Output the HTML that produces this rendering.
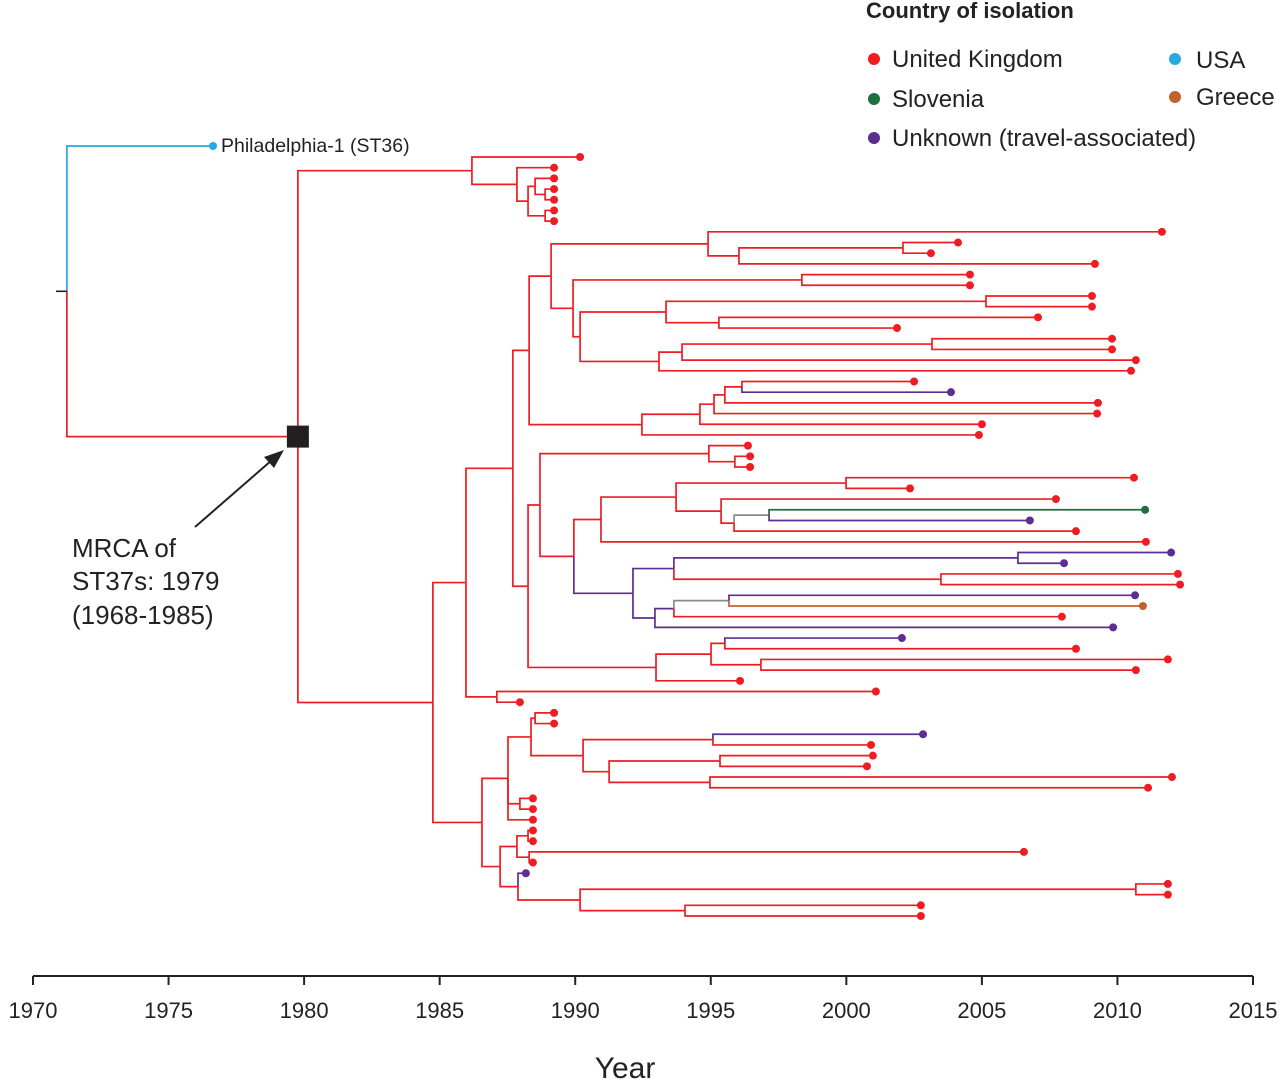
<!DOCTYPE html>
<html><head><meta charset="utf-8"><style>
body{margin:0;background:#fff;}
svg{display:block;font-family:"Liberation Sans",Arial,sans-serif;}
</style></head><body>
<svg id="chart" width="1280" height="1081" viewBox="0 0 1280 1081" xmlns="http://www.w3.org/2000/svg">
<g id="tree"></g>
<g id="axis"></g>
<text x="625" y="1078" font-size="30" text-anchor="middle" fill="#222">Year</text>
<g>
<text x="866" y="18" font-size="22" font-weight="bold" fill="#222">Country of isolation</text>
<g><circle cx="874" cy="59" r="6" fill="#ee1d23"/><text x="892" y="67" font-size="24" fill="#222">United Kingdom</text></g>
<g><circle cx="874" cy="99" r="6" fill="#1e6f3f"/><text x="892" y="107" font-size="24" fill="#222">Slovenia</text></g>
<g><circle cx="874" cy="138" r="6" fill="#5c2e91"/><text x="892" y="146" font-size="24" fill="#222">Unknown (travel-associated)</text></g>
<g><circle cx="1175" cy="59" r="6" fill="#27aae1"/><text x="1196" y="68" font-size="24" fill="#222">USA</text></g>
<g><circle cx="1175" cy="97" r="6" fill="#c0632b"/><text x="1196" y="105" font-size="24" fill="#222">Greece</text></g>
</g>
<text x="221" y="152" font-size="19.5" fill="#222">Philadelphia-1 (ST36)</text>
<g>
<text x="72" y="557" font-size="26" fill="#222">MRCA of</text>
<text x="72" y="590" font-size="26" fill="#222">ST37s: 1979</text>
<text x="72" y="624" font-size="26" fill="#222">(1968-1985)</text>
<line x1="195" y1="527" x2="272" y2="460" stroke="#222" stroke-width="2"/>
<polygon points="284,450 264,457 274,468" fill="#222"/>
</g>
</svg>
<script>
const ticks=[1970,1975,1980,1985,1990,1995,2000,2005,2010,2015];
const tickLabels=["1970","1975","1980","1985","1990","1995","2000","2005","2010","2015"];
const R='#ee1d23',P='#5c2e91',G='#1e6f3f',O='#c0632b',Gy='#8a8a8a',B='#27aae1';
function N(t,ch,c){return {t:t,ch:ch,c:c||R};}
function L(t,c){return {t:t,c:c||R,leaf:true};}
const rootYear=1971.25;
const phillyYear=1976.64;
const mrcaYear=1979.77;
const cladeA=N(1986.19,[L(1990.18),N(1987.85,[L(1989.22),N(1988.26,[N(1988.52,[L(1989.22),N(1988.89,[L(1989.22),L(1989.22)])]),N(1988.89,[L(1989.22),L(1989.22)])])])]);
const cladeB=N(1984.75,[
 N(1985.97,[
  N(1987.70,[
   N(1988.30,[
    N(1989.11,[
     N(1994.90,[L(2011.64),N(1996.04,[N(2002.09,[L(2004.12),L(2003.12)]),L(2009.17)])]),
     N(1989.92,[N(1998.36,[L(2004.56),L(2004.56)]),
      N(1990.18,[N(1993.35,[N(2005.15,[L(2009.06),L(2009.06)]),N(1995.30,[L(2007.07),L(2001.87)])]),
       N(1993.09,[N(1993.94,[N(2003.16,[L(2009.80),L(2009.80)]),L(2010.68)]),L(2010.50)])])])]),
    N(1992.46,[N(1994.60,[N(1995.12,[N(1995.52,[N(1996.15,[L(2002.50),L(2003.86,P)]),L(2009.28)]),L(2009.25)]),L(2005.00)]),L(2004.89)])]),
   N(1988.26,[
    N(1988.70,[N(1994.93,[L(1996.37),N(1995.89,[L(1996.45),L(1996.45)])]),
     N(1989.95,[
      N(1990.95,[N(1993.72,[N(1999.99,[L(2010.61),L(2002.35)]),N(1995.38,[L(2007.73),N(1995.86,[N(1997.15,[L(2011.02,G),L(2006.77,P)],Gy),L(2008.47)])])]),L(2011.05)]),
      N(1992.13,[N(1993.64,[N(2006.33,[L(2011.98,P),L(2008.03,P)],P),N(2003.49,[L(2012.23),L(2012.31)])],P),
       N(1992.94,[N(1993.64,[N(1995.67,[L(2010.65,P),L(2010.94,O)],Gy),L(2007.95)],P),L(2009.84,P)],P)],P)])]),
    N(1992.98,[N(1995.01,[N(1995.52,[L(2002.05,P),L(2008.47)]),N(1996.85,[L(2011.86),L(2010.68)])]),L(1996.08)])])]),
  N(1987.11,[L(2001.09),L(1987.96)])]),
 N(1986.56,[
  N(1987.52,[
   N(1988.37,[N(1988.52,[L(1989.22),L(1989.22)]),N(1990.29,[N(1995.08,[L(2002.83,P),L(2000.91)]),N(1991.25,[N(1995.34,[L(2000.98),L(2000.76)]),N(1994.97,[L(2012.01),L(2011.13)])])])]),
   N(1987.96,[L(1988.44),L(1988.44)]),L(1988.44)]),
  N(1987.23,[N(1987.85,[N(1988.26,[L(1988.44),L(1988.44)]),N(1988.30,[L(2006.55),L(1988.44)])]),
   N(1987.89,[L(1988.18,P),N(1990.18,[N(2010.68,[L(2011.86),L(2011.86)]),N(1994.05,[L(2002.75),L(2002.75)])])])])])]);

const X0=33,X1=1253;
function x(t){return X0+(t-1970)*(X1-X0)/45;}
const firstTipY=157,tipStep=(916-157)/71;
let idx=0;
function layout(n){ if(n.leaf){n.y=firstTipY+idx*tipStep;idx++;return n.y;}
 n.ch.forEach(layout); n.y=(n.ch[0].y+n.ch[n.ch.length-1].y)/2; return n.y;}
layout(cladeA);layout(cladeB);
const mrca={t:mrcaYear,ch:[cladeA,cladeB],c:R};mrca.y=(cladeA.y+cladeB.y)/2;
const philly={t:phillyYear,c:B,leaf:true,y:146};
const root={t:rootYear,ch:[philly,mrca],y:(146+mrca.y)/2};
const NS='http://www.w3.org/2000/svg';
const g=document.getElementById('tree');
function mk(tag,attrs,parent){const e=document.createElementNS(NS,tag);for(const k in attrs)e.setAttribute(k,attrs[k]);(parent||g).appendChild(e);return e;}
let bi=0,li=0;
function draw(n){
 n.ch.forEach(c=>{
  const p=mk('polyline',{points:x(n.t)+','+n.y+' '+x(n.t)+','+c.y+' '+x(c.t)+','+c.y,fill:'none',stroke:c.c,'stroke-width':1.7});
  
  
  if(c.leaf){const d=mk('circle',{cx:x(c.t),cy:c.y,r:4,fill:c.c});
   
   }
  else draw(c);
 });
}
draw(root);
const stub=mk('line',{x1:56,y1:root.y,x2:x(rootYear),y2:root.y,stroke:'#222','stroke-width':1.6});


const sq=mk('rect',{x:x(mrcaYear)-11,y:mrca.y-11,width:22,height:22,fill:'#231f20'});


const ax=document.getElementById('axis');
const al=mk('line',{x1:X0,y1:976,x2:X1,y2:976,stroke:'#222','stroke-width':2},ax);


ticks.forEach((t,i)=>{
 const tk=mk('line',{x1:x(t),y1:976,x2:x(t),y2:985,stroke:'#222','stroke-width':2},ax);
 
 
 const tl=mk('text',{x:x(t),y:1018,'font-size':22,'text-anchor':'middle',fill:'#222'},ax);
 tl.textContent=tickLabels[i];
 
 
});
</script>
</body></html>
